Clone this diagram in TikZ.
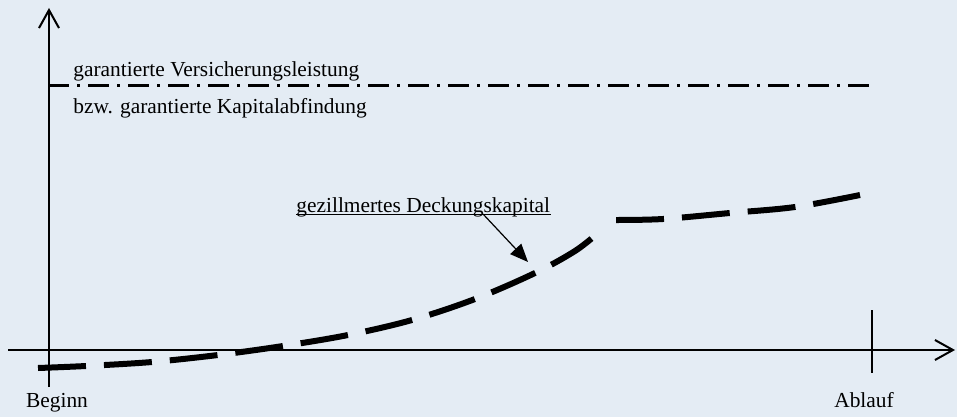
\documentclass[tikz,border=0pt]{standalone}
\usepackage{fontspec}
\setmainfont{Liberation Serif}
\usetikzlibrary{arrows.meta}
\definecolor{bgblue}{RGB}{228,236,244}
\tikzset{
	axis/.style={line width=1pt, -{Straight Barb[length=9pt,width=10pt,line width=1pt]}},
	guarantee/.style={line width=1.5pt, dash pattern=on 10.5pt off 4pt on 1.5pt off 4pt},
	reserve/.style={line width=3pt, dash pattern=on 24pt off 9pt},
	label/.style={inner sep=0pt, anchor=base west}
}

\begin{document}
\begin{tikzpicture}[x=0.5pt, y=-0.5pt, every node/.style={font=\fontsize{10.7}{13}\selectfont}]
			\fill[bgblue] (0,0) rectangle (957,417);
			\useasboundingbox (0,0) rectangle (957,417);
			% axes
			\coordinate (O1) at (49,387);
			\coordinate (O2) at (49,8);
			\coordinate (X1) at (8,350);
			\coordinate (X2) at (955,350);
			\draw [axis] (O1) -- (O2);
			\draw [axis] (X1) -- (X2);
			\coordinate (T1) at (872,310);
			\coordinate (T2) at (872,373);
			\draw [line width=1pt] (T1) -- (T2);
			\node[inner sep=0pt, anchor=base] (Beg) at (57,407) {Beginn};
			\node[inner sep=0pt, anchor=base] (Abl) at (864,407) {Ablauf};
			% guaranteed benefit
			\coordinate (G1) at (48,86);
			\coordinate (G2) at (869,86);
			\draw [guarantee] (G1) -- (G2);
			\node[label] (GV) at (73,76) {garantierte Versicherungsleistung};
			\node[label] (GK) at (73,113) {bzw. garantierte Kapitalabfindung};
			% reserve
			\draw [reserve] plot[smooth, tension=0.55] coordinates {(38,368) (86,366) (152,362) (218,355) (283,346) (348,335) (412,320) (475,299) (535,273) (575,251) (598,233)};
			\draw [reserve] plot[smooth, tension=0.55] coordinates {(616,220) (663,219) (730,213) (795,207) (860,195)};
			\node[label] (DK) at (296,212) {gezillmertes Deckungskapital};
			\draw [line width=0.5pt] ([yshift=-1pt]DK.base west) -- ([yshift=-1pt]DK.base east);
			\coordinate (DKa) at (483,214);
			\coordinate (DKb) at (528,262);
			\draw [line width=0.6pt, -{Triangle[length=9pt,width=7.5pt]}] (DKa) -- (DKb);
		\end{tikzpicture}
\end{document}
